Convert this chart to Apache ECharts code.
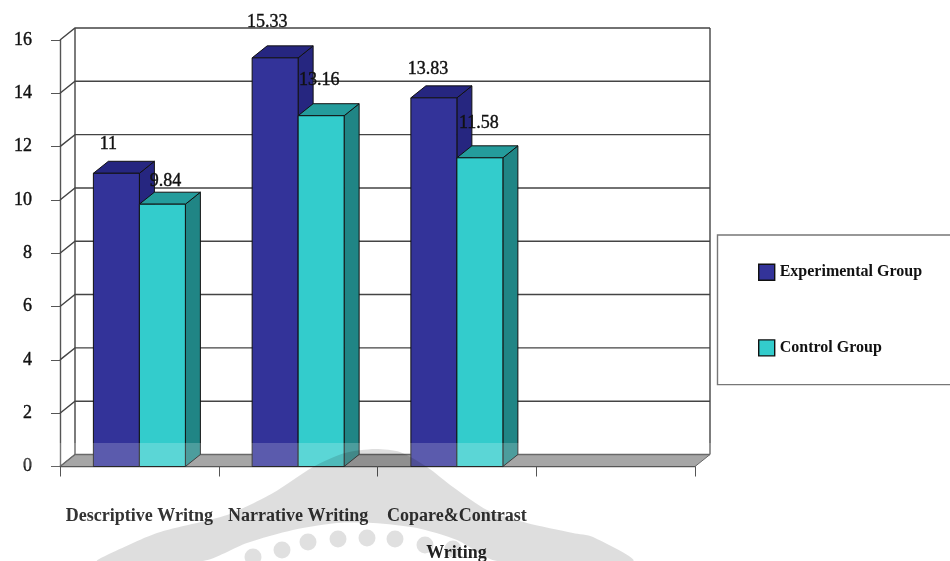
<!DOCTYPE html>
<html><head><meta charset="utf-8">
<style>html,body{margin:0;padding:0;background:#fff}#c{width:950px;height:561px}</style>
<script src="https://cdn.jsdelivr.net/npm/echarts@6/dist/echarts.min.js"></script>
</head><body><div id="c"></div>
<script>
const categories = ['Descriptive Writng','Narrative Writing','Copare&Contrast',''];
const experimental = [11,15.33,13.83,null];
const control = [9.84,13.16,11.58,null];
const yTicks = [0,2,4,6,8,10,12,14,16];
const expName='Experimental Group', ctlName='Control Group';

const DX=15, DY=12, BAR=46;
const serif='"Liberation Serif","Times New Roman",serif';
const labelNudgeExp=[[-8,-29],[-8,-36],[-6,-29]];
const labelNudgeCtl=[[3,-23],[-2,-35],[-1,-35]];

function barRender(side,front,top,dark,nudge,line){
  return function(params,api){
    const cat=api.value(0), v=api.value(1);
    if(v==null||isNaN(v)) return;
    const t=api.coord([cat,v]), b=api.coord([cat,0]);
    const l=t[0]+(side<0?-BAR:0), r=l+BAR;
    const st=(c)=>({fill:c,stroke:line,lineWidth:1});
    const n=nudge[params.dataIndex];
    return {type:'group',children:[
      {type:'polygon',shape:{points:[[r,t[1]],[r+DX,t[1]-DY],[r+DX,b[1]-DY],[r,b[1]]]},style:st(dark)},
      {type:'polygon',shape:{points:[[l,t[1]],[l+DX,t[1]-DY],[r+DX,t[1]-DY],[r,t[1]]]},style:st(top)},
      {type:'rect',shape:{x:l,y:t[1],width:BAR,height:b[1]-t[1]},style:st(front)},
      {type:'text',z2:50,style:{text:String(v),x:l+BAR/2+n[0],y:t[1]+n[1],align:'center',verticalAlign:'middle',
        fill:'#111',stroke:'#111',lineWidth:0.4,font:'18px '+serif}}
    ]};
  };
}
function wallRender(params,api){
  const v=api.value(0), p0=api.coord([0,v]), x0=params.coordSys.x, x1=x0+params.coordSys.width;
  const y=p0[1], ln={stroke:'#444',lineWidth:1.4,fill:null};
  const ch=[{type:'polyline',shape:{points:[[x0,y],[x0+DX,y-DY],[x1+DX,y-DY]]},style:ln}];
  if(v===0){
    ch.unshift({type:'polygon',shape:{points:[[x0,y],[x0+DX,y-DY],[x1+DX,y-DY],[x1,y]]},style:{fill:'#909090',stroke:'#444',lineWidth:1}});
    const top=api.coord([0,yTicks[yTicks.length-1]])[1];
    ch.push({type:'line',shape:{x1:x0+DX,y1:y-DY,x2:x0+DX,y2:top-DY},style:ln});
    ch.push({type:'line',shape:{x1:x1+DX,y1:y-DY,x2:x1+DX,y2:top-DY},style:ln});
  }
  return {type:'group',children:ch};
}

// Page decoration: the pale watermark lying over the scanned figure
const wmArch=[[97,561],[103,557],[157,533],[227,515],[273,493],[313,467],[345,453],[375,449],[400,452],[427,467],[453,487],[487,510],[527,523],[573,533],[593,537],[633,561],[497,561],[457,540],[417,528],[373,523],[337,523],[293,530],[247,543],[203,561]];
const wmDots=[[253,557],[282,550],[308,542],[338,539],[367,538],[395,539],[425,545],[453,549]];
const wm='rgba(0,0,0,0.13)';
const graphicEls=[
  {type:'rect',z:100,silent:true,shape:{x:0,y:443,width:950,height:23.5},style:{fill:'rgba(255,255,255,0.2)'}},
  {type:'polygon',z:101,silent:true,shape:{points:wmArch,smooth:0.25},style:{fill:wm}}
].concat(wmDots.map(d=>({type:'circle',z:101,silent:true,shape:{cx:d[0],cy:d[1],r:8.5},style:{fill:'rgba(0,0,0,0.12)'}})));

const chart=echarts.init(document.getElementById('c'),null,{renderer:'canvas'});
chart.setOption({
  animation:false,
  backgroundColor:'#fff',
  graphic:{elements:graphicEls},
  grid:{left:60,right:255,top:40,bottom:94.5,containLabel:false,outerBoundsMode:'none'},
  legend:{
    orient:'vertical',left:717.5,top:235,padding:[28.5,40,28,40.5],itemGap:58.3,itemWidth:16,itemHeight:16,
    borderColor:'#777',borderWidth:1.4,
    textStyle:{fontFamily:serif,fontWeight:'bold',fontSize:16,color:'#111'},
    data:[
      {name:expName,icon:'rect',itemStyle:{color:'#333399',borderColor:'#111',borderWidth:1.4}},
      {name:ctlName,icon:'rect',itemStyle:{color:'#33cccc',borderColor:'#111',borderWidth:1.4}}
    ]
  },
  xAxis:{type:'category',data:categories,boundaryGap:true,
    axisLine:{lineStyle:{color:'#555',width:1.4}},
    axisTick:{show:true,length:10,lineStyle:{color:'#555'},interval:0},
    axisLabel:{interval:0,margin:41,fontFamily:serif,fontSize:18,fontWeight:'bold',color:'#333'},
    name:'Writing',nameLocation:'middle',nameGap:78,
    nameTextStyle:{fontFamily:serif,fontSize:18,fontWeight:'bold',color:'#222',padding:[0,0,0,158]}
  },
  yAxis:{type:'value',min:0,max:16,interval:2,
    axisLine:{show:true,lineStyle:{color:'#555',width:1.4}},
    axisTick:{show:true,length:9,lineStyle:{color:'#555'}},
    axisLabel:{margin:28,fontFamily:serif,fontSize:18,color:'#111',textBorderColor:'#111',textBorderWidth:0.4,padding:[4,0,0,0]},
    splitLine:{show:false}
  },
  series:[
    {type:'custom',name:'wall',silent:true,z:1,coordinateSystem:'cartesian2d',encode:{x:-1,y:0},clip:false,
     data:yTicks.map(v=>[v]),renderItem:wallRender},
    {type:'custom',name:expName,z:3,clip:false,encode:{x:0,y:1},
     data:categories.map((c,i)=>[i,experimental[i]]),
     renderItem:barRender(-1,'#333399','#262680','#262680',labelNudgeExp,'#111')},
    {type:'custom',name:ctlName,z:3,clip:false,encode:{x:0,y:1},
     data:categories.map((c,i)=>[i,control[i]]),
     renderItem:barRender(1,'#33cccc','#249c9c','#208585',labelNudgeCtl,'#111')}
  ]
});
</script></body></html>
